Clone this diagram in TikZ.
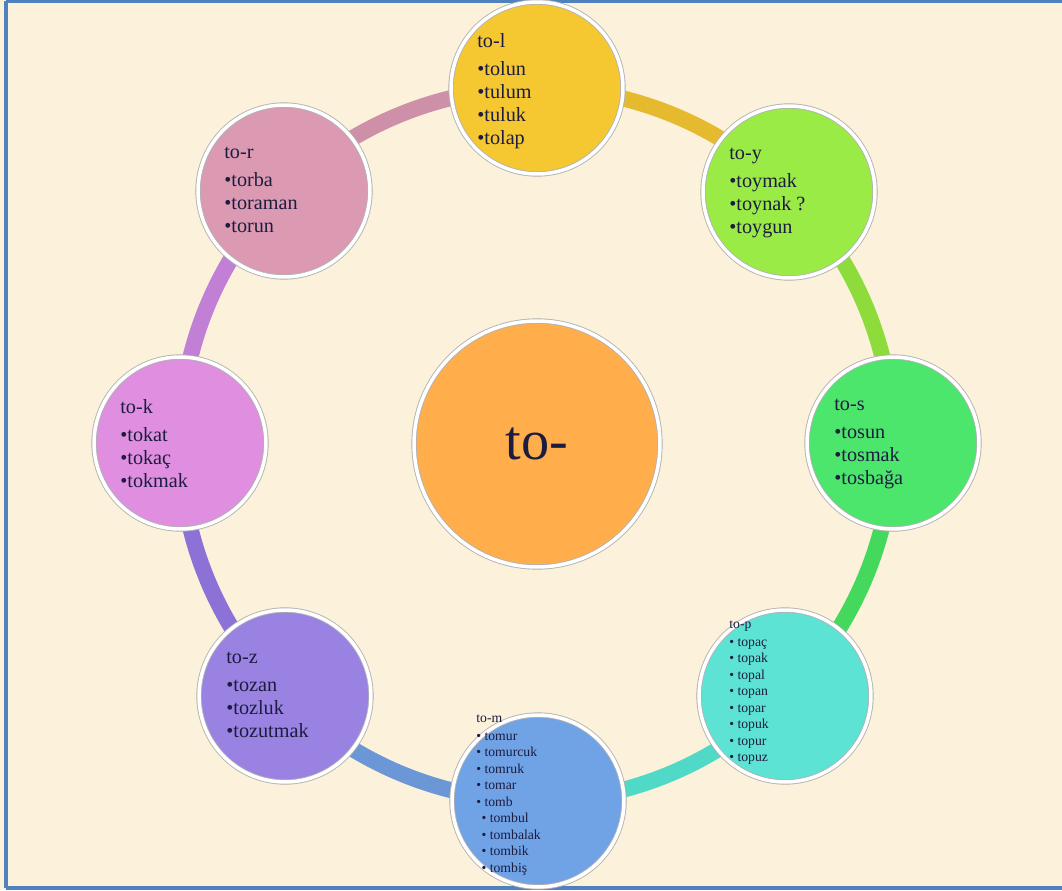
\documentclass[tikz,border=0pt]{standalone}
\usepackage{fontspec}
\setmainfont{Liberation Serif}
\usepackage{tikz}
\usetikzlibrary{backgrounds}
\definecolor{paper}{HTML}{FCF1DA}
\definecolor{frameblue}{HTML}{4F81BD}
\definecolor{ink}{HTML}{1C1C40}
\definecolor{gold}{HTML}{F5C832}
\definecolor{lime}{HTML}{9BEB46}
\definecolor{grass}{HTML}{4DE66C}
\definecolor{aqua}{HTML}{5CE3D4}
\definecolor{sky}{HTML}{70A3E6}
\definecolor{lilac}{HTML}{9A82E3}
\definecolor{orchid}{HTML}{E08EE0}
\definecolor{rose}{HTML}{DC9AB2}
\definecolor{peach}{HTML}{FFAE4B}
\tikzset{
  bubble/.style={
    circle, minimum size=3.44cm, inner sep=0pt,
    draw=black!30, line width=0.5pt,
    double=white, double distance=2pt,
  },
  hub/.style={
    bubble, minimum size=4.92cm,
    fill=peach, text=ink,
    font=\fontsize{32}{34}\selectfont,
  },
  words/.style={
    anchor=north west, align=left, inner sep=0pt,
    text=ink, font=\fontsize{11.5}{13}\selectfont,
  },
  smallwords/.style={
    words, font=\fontsize{7.8}{9.4}\selectfont,
  },
  ring/.style={line width=0.32cm, bend right=22.5, looseness=0.885},
}

\begin{document}
\begin{tikzpicture}[x=0.02cm, y=0.02cm]
  \useasboundingbox (0,0) rectangle (1062,-890);
  \begin{scope}[on background layer]
    \fill[paper] (0,0) rectangle (1062,-890);
  \end{scope}
  \draw[frameblue, line width=2.5pt] (6,-1) -- (1062,-1);
  \draw[frameblue, line width=2.5pt] (6,-1) -- (6,-888);
  \draw[frameblue, line width=2.5pt] (6,-888) -- (1062,-888);
  % circles
  \node[hub] (c0) at (537,-444) {to-};
  \node[bubble, fill=gold] (cl) at (537,-88) {};
  \node[bubble, fill=lime] (cy) at (789,-192) {};
  \node[bubble, fill=grass] (cs) at (893,-443) {};
  \node[bubble, fill=aqua] (cp) at (785,-696) {};
  \node[bubble, fill=sky] (cm) at (538,-801) {};
  \node[bubble, fill=lilac] (cz) at (285,-696) {};
  \node[bubble, fill=orchid] (ck) at (180,-443) {};
  \node[bubble, fill=rose] (cr) at (284,-191) {};
  % ring behind the circles
  \begin{scope}[on background layer]
    \draw[ring, color={rgb,255:red,230;green,186;blue,46}] (cy.center) to (cl.center);
    \draw[ring, color={rgb,255:red,142;green,220;blue,60}] (cs.center) to (cy.center);
    \draw[ring, color={rgb,255:red,68;green,217;blue,92}] (cp.center) to (cs.center);
    \draw[ring, color={rgb,255:red,79;green,217;blue,198}] (cm.center) to (cp.center);
    \draw[ring, color={rgb,255:red,107;green,151;blue,214}] (cz.center) to (cm.center);
    \draw[ring, color={rgb,255:red,140;green,114;blue,214}] (ck.center) to (cz.center);
    \draw[ring, color={rgb,255:red,193;green,127;blue,214}] (cr.center) to (ck.center);
    \draw[ring, color={rgb,255:red,206;green,143;blue,168}] (cl.center) to (cr.center);
  \end{scope}
  % word lists
  \node[words] (tl) at (477,-33) {to-l\\[3pt]\textbullet tolun\\\textbullet tulum\\\textbullet tuluk\\\textbullet tolap};
  \node[words] (ty) at (729,-148) {to-y\\[3pt]\textbullet toymak\\\textbullet toynak ?\\\textbullet toygun};
  \node[words] (ts) at (834,-399) {to-s\\[3pt]\textbullet tosun\\\textbullet tosmak\\\textbullet tosbağa};
  \node[words] (tr) at (224,-147) {to-r\\[3pt]\textbullet torba\\\textbullet toraman\\\textbullet torun};
  \node[words] (tk) at (120,-399) {to-k\\[3pt]\textbullet tokat\\\textbullet tokaç\\\textbullet tokmak};
  \node[words] (tz) at (226,-652) {to-z\\[3pt]\textbullet tozan\\\textbullet tozluk\\\textbullet tozutmak};
  \node[smallwords] (tp) at (729,-620) {to-p\\[1pt]
    \textbullet{} topaç\\\textbullet{} topak\\\textbullet{} topal\\\textbullet{} topan\\
    \textbullet{} topar\\\textbullet{} topuk\\\textbullet{} topur\\\textbullet{} topuz};
  \node[smallwords] (tm) at (476,-714) {to-m\\[1pt]
    \textbullet{} tomur\\\textbullet{} tomurcuk\\\textbullet{} tomruk\\\textbullet{} tomar\\
    \textbullet{} tomb\\\hspace{3pt}\textbullet{} tombul\\\hspace{3pt}\textbullet{} tombalak\\
    \hspace{3pt}\textbullet{} tombik\\\hspace{3pt}\textbullet{} tombiş};
\end{tikzpicture}
\end{document}
